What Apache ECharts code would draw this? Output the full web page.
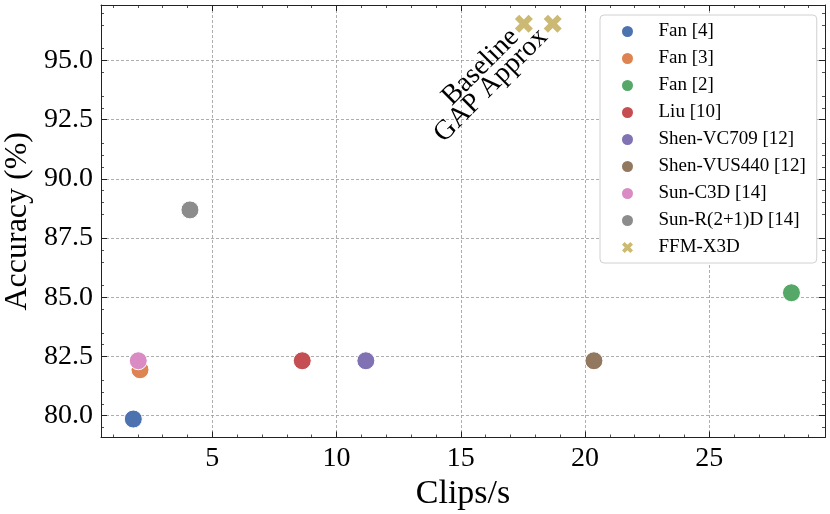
<!DOCTYPE html>
<html>
<head>
<meta charset="utf-8">
<script src="https://cdn.jsdelivr.net/npm/echarts@6/dist/echarts.min.js"></script>
<style>html,body{margin:0;padding:0;background:#fff}#c{width:830px;height:514px}</style>
</head>
<body>
<div id="c"></div>
<script>
// ---- data (Clips/s, Accuracy %) ----
const seriesNames = ['Fan [4]', 'Fan [3]', 'Fan [2]', 'Liu [10]', 'Shen-VC709 [12]', 'Shen-VUS440 [12]', 'Sun-C3D [14]', 'Sun-R(2+1)D [14]'];
const clipsPerSec = [1.82, 2.09, 28.31, 8.62, 11.18, 20.36, 2.02, 4.10];
const accuracy    = [79.86, 81.94, 85.19, 82.32, 82.32, 82.32, 82.32, 88.69];
const ffmName = 'FFM-X3D';
const ffmLabels = ['Baseline', 'GAP Approx'];
const ffmClips = [17.54, 18.70];
const ffmAcc = [96.55, 96.55];
const xTickValues = [5, 10, 15, 20, 25];
const yTickValues = [80.0, 82.5, 85.0, 87.5, 90.0, 92.5, 95.0];

const colors = ['#4C72B0', '#DD8452', '#55A868', '#C44E52', '#8172B3', '#937860', '#DA8BC3', '#8C8C8C', '#CCB974'];
const FONT = '"Liberation Serif", "DejaVu Serif", serif';
const X_MIN = 0.52, X_MAX = 29.66, Y_MIN = 79.08, Y_MAX = 97.34;
const crossPath = 'path://M0,2.4 L2.4,0 L5,2.6 L7.6,0 L10,2.4 L7.4,5 L10,7.6 L7.6,10 L5,7.4 L2.4,10 L0,7.6 L2.6,5 Z';

const axisLine = { show: true, onZero: false, lineStyle: { color: '#222', width: 1 } };
function xAx(pos, main) {
  return {
    type: 'value', position: pos, min: X_MIN, max: X_MAX, minInterval: 5, maxInterval: 5,
    axisLine: axisLine,
    axisTick: { show: true, inside: true, length: 6, customValues: xTickValues, lineStyle: { color: '#222', width: 1 } },
    minorTick: { show: true, splitNumber: 5, length: 3, lineStyle: { color: '#222', width: 0.8 } },
    axisLabel: { show: main, customValues: xTickValues, color: '#000', fontFamily: FONT, fontSize: 28, margin: 7 },
    splitLine: { show: main, lineStyle: { color: '#999', width: 0.8, type: [3, 2] } },
    name: main ? 'Clips/s' : '', nameLocation: 'middle', nameGap: 31,
    nameTextStyle: { color: '#000', fontFamily: FONT, fontSize: 34 }
  };
}
function yAx(pos, main) {
  return {
    type: 'value', position: pos, min: Y_MIN, max: Y_MAX, minInterval: 2, maxInterval: 2,
    axisLine: axisLine,
    axisTick: { show: true, inside: true, length: 6, customValues: yTickValues, lineStyle: { color: '#222', width: 1 } },
    minorTick: { show: true, splitNumber: 4, length: 3, lineStyle: { color: '#222', width: 0.8 } },
    axisLabel: { show: main, customValues: yTickValues, color: '#000', fontFamily: FONT, fontSize: 28, margin: 8,
                 formatter: v => v.toFixed(1) },
    splitLine: { show: main, lineStyle: { color: '#999', width: 0.8, type: [3, 2] } },
    name: main ? 'Accuracy (%)' : '', nameLocation: 'middle', nameGap: 57,
    nameTextStyle: { color: '#000', fontFamily: FONT, fontSize: 32 }
  };
}

const series = seriesNames.map((n, i) => ({
  name: n, type: 'scatter', xAxisIndex: 0, yAxisIndex: 0,
  symbol: 'circle', symbolSize: 18,
  itemStyle: { color: colors[i], borderColor: '#fff', borderWidth: 1, opacity: 1 },
  data: [[clipsPerSec[i], accuracy[i]]]
}));
series.push({
  name: ffmName, type: 'scatter', xAxisIndex: 0, yAxisIndex: 0,
  symbol: crossPath, symbolSize: 18,
  itemStyle: { color: colors[8], opacity: 1 },
  label: {
    show: true, position: 'inside', align: 'right', verticalAlign: 'middle', rotate: 45,
    offset: [-13, 0], color: '#000', fontFamily: FONT, fontSize: 28,
    formatter: p => ffmLabels[p.dataIndex]
  },
  data: ffmClips.map((c, i) => [c, ffmAcc[i]])
});

const chart = echarts.init(document.getElementById('c'), null, { renderer: 'canvas' });
chart.setOption({
  animation: false,
  color: colors,
  grid: { left: 101, top: 5, right: 5, bottom: 76.5, containLabel: false, outerBoundsMode: 'none' },
  xAxis: [xAx('bottom', true), xAx('top', false)],
  yAxis: [yAx('left', true), yAx('right', false)],
  legend: {
    orient: 'vertical', left: 600, top: 15,
    padding: [7, 11, 6, 22], itemGap: 8, itemWidth: 52, itemHeight: 11,
    backgroundColor: '#fff', borderColor: '#d0d0d0', borderWidth: 1, borderRadius: 4,
    textStyle: { color: '#000', fontFamily: FONT, fontSize: 19 },
    itemStyle: { borderWidth: 0 },
    data: seriesNames.concat([ffmName])
  },
  series: series
});
</script>
</body>
</html>
